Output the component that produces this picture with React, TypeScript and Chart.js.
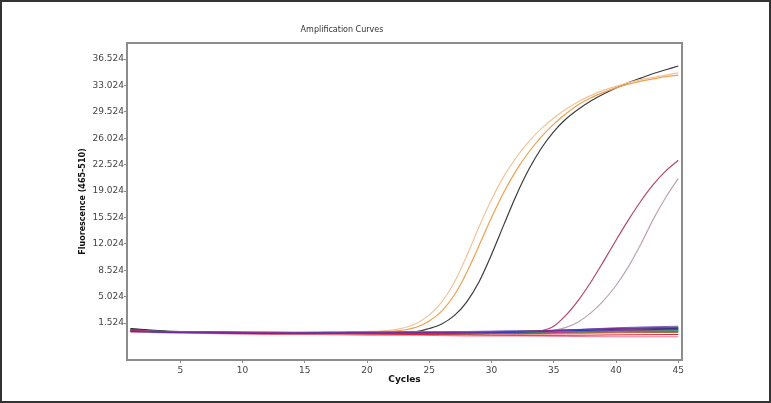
import React, { useEffect, useRef } from "react";
import { Chart, registerables } from "chart.js";

Chart.register(...registerables);

// ---- data ----
const cycles = [
  1, 2, 3, 4, 5, 6, 7, 8, 9, 10, 11, 12, 13, 14, 15, 16, 17, 18, 19, 20, 21, 22, 23,
  24, 25, 26, 27, 28, 29, 30, 31, 32, 33, 34, 35, 36, 37, 38, 39, 40, 41, 42, 43, 44, 45,
];

const xTicks = [5, 10, 15, 20, 25, 30, 35, 40, 45];
const yTicks = [1.524, 5.024, 8.524, 12.024, 15.524, 19.024, 22.524, 26.024, 29.524, 33.024, 36.524];

// amplification curves (one value per cycle)
const curveA = [
  0.6, 0.5, 0.4, 0.35, 0.3, 0.3, 0.25, 0.25, 0.2, 0.2, 0.2, 0.2, 0.25, 0.25, 0.25, 0.3, 0.3, 0.3, 0.35, 0.4, 0.45,
  0.6, 0.9, 1.5, 2.6, 4.3, 6.9, 10.4, 14.3, 17.9, 21.0, 23.5, 25.6, 27.3, 28.7, 29.9, 30.9, 31.7, 32.4, 32.9,
  33.4, 33.8, 34.1, 34.4, 34.7,
];
const curveB = [
  0.5, 0.45, 0.4, 0.3, 0.3, 0.25, 0.25, 0.2, 0.2, 0.2, 0.2, 0.25, 0.25, 0.25, 0.3, 0.3, 0.3, 0.3, 0.35, 0.35, 0.4,
  0.45, 0.6, 1.0, 1.8, 3.1, 5.2, 8.2, 11.8, 15.5, 18.9, 21.8, 24.2, 26.2, 27.9, 29.3, 30.5, 31.4, 32.1, 32.7,
  33.2, 33.6, 33.9, 34.2, 34.4,
];
const curveC = [
  0.7, 0.5, 0.4, 0.35, 0.3, 0.3, 0.25, 0.2, 0.2, 0.2, 0.2, 0.2, 0.2, 0.25, 0.25, 0.25, 0.3, 0.3, 0.3, 0.3, 0.3,
  0.3, 0.35, 0.4, 0.8, 1.4, 2.5, 4.3, 7.0, 10.6, 14.6, 18.5, 21.9, 24.7, 26.9, 28.6, 29.9, 31.0, 31.9, 32.7,
  33.4, 34.0, 34.6, 35.1, 35.6,
];
const curveD = [
  0.5, 0.4, 0.35, 0.3, 0.3, 0.25, 0.25, 0.2, 0.2, 0.2, 0.2, 0.2, 0.2, 0.2, 0.25, 0.25, 0.25, 0.25, 0.3, 0.3, 0.3,
  0.3, 0.3, 0.3, 0.3, 0.3, 0.3, 0.3, 0.3, 0.3, 0.3, 0.3, 0.35, 0.5, 1.1, 2.6, 4.6, 7.0, 9.7, 12.5,
  15.2, 17.7, 19.9, 21.7, 23.1,
];
const curveE = [
  0.4, 0.35, 0.3, 0.3, 0.25, 0.25, 0.2, 0.2, 0.2, 0.2, 0.2, 0.2, 0.2, 0.2, 0.2, 0.2, 0.25, 0.25, 0.25, 0.25, 0.25,
  0.25, 0.25, 0.25, 0.3, 0.3, 0.3, 0.3, 0.3, 0.3, 0.3, 0.3, 0.3, 0.35, 0.55, 0.95, 1.7, 2.9, 4.5, 6.5,
  9.0, 12.0, 15.3, 18.2, 20.7,
];

// flat (negative) samples, read at sparse cycles
const baseCycles = [1, 4, 8, 12, 16, 20, 24, 28, 32, 36, 40, 45];
const base1 = [0.5, 0.3, 0.25, 0.2, 0.2, 0.2, 0.25, 0.3, 0.4, 0.6, 0.8, 0.9];
const base2 = [0.4, 0.3, 0.2, 0.15, 0.2, 0.2, 0.2, 0.25, 0.3, 0.5, 0.6, 0.7];
const base3 = [0.5, 0.3, 0.2, 0.1, 0.1, 0.05, 0.0, -0.05, -0.1, -0.1, -0.05, 0.0];
const base4 = [0.6, 0.35, 0.3, 0.25, 0.2, 0.25, 0.3, 0.2, 0.1, 0.3, 0.5, 0.4];
const base5 = [0.5, 0.3, 0.25, 0.2, 0.15, 0.2, 0.1, 0.05, 0.2, 0.3, 0.5, 0.6];
const base6 = [0.4, 0.3, 0.25, 0.2, 0.3, 0.2, 0.2, 0.3, 0.35, 0.4, 0.5, 0.5];
const base7 = [0.6, 0.4, 0.3, 0.3, 0.25, 0.3, 0.3, 0.35, 0.4, 0.6, 0.8, 1.0];
const base8 = [0.7, 0.4, 0.3, 0.25, 0.2, 0.2, 0.15, 0.2, 0.3, 0.4, 0.7, 0.8];
const base9 = [0.3, 0.2, 0.1, 0.0, 0.0, -0.1, -0.1, -0.2, -0.2, -0.25, -0.3, -0.3];
const base10 = [0.5, 0.35, 0.3, 0.25, 0.2, 0.15, 0.2, 0.25, 0.3, 0.3, 0.4, 0.5];
const base11 = [0.4, 0.25, 0.2, 0.2, 0.15, 0.1, 0.1, 0.1, 0.15, 0.2, 0.3, 0.3];
const base12 = [0.5, 0.3, 0.3, 0.3, 0.3, 0.35, 0.35, 0.4, 0.5, 0.6, 0.9, 1.1];
const base13 = [0.6, 0.4, 0.35, 0.3, 0.25, 0.2, 0.2, 0.2, 0.25, 0.35, 0.45, 0.6];
const base14 = [0.8, 0.45, 0.3, 0.25, 0.2, 0.2, 0.25, 0.2, 0.2, 0.3, 0.4, 0.5];
const base15 = [0.4, 0.3, 0.2, 0.2, 0.15, 0.15, 0.2, 0.1, 0.05, 0.1, 0.2, 0.3];
const base16 = [0.5, 0.3, 0.25, 0.2, 0.2, 0.25, 0.3, 0.35, 0.45, 0.55, 0.75, 0.9];

const baseSeries = [
  { values: base1, color: "#7a2a9a" },
  { values: base2, color: "#2838c0" },
  { values: base3, color: "#d82030" },
  { values: base4, color: "#c03890" },
  { values: base5, color: "#3a9a40" },
  { values: base6, color: "#40b8d0" },
  { values: base7, color: "#707070" },
  { values: base8, color: "#203070" },
  { values: base9, color: "#f07890" },
  { values: base10, color: "#8a8a40" },
  { values: base11, color: "#a05a30" },
  { values: base12, color: "#8060c8" },
  { values: base13, color: "#2a8080" },
  { values: base14, color: "#202020" },
  { values: base15, color: "#e89070" },
  { values: base16, color: "#6070a0" },
];

const ampSeries = [
  { values: curveE, color: "#bca4b6" },
  { values: curveD, color: "#b04868" },
  { values: curveA, color: "#f0c49a" },
  { values: curveB, color: "#eea050" },
  { values: curveC, color: "#3c3c3c" },
];

const FONT = "DejaVu Sans";

export default function App() {
  const ref = useRef<HTMLCanvasElement>(null);

  useEffect(() => {
    if (!ref.current) return;

    const datasets: any[] = [];
    baseSeries.forEach((s) => {
      datasets.push({
        data: baseCycles.map((c, i) => ({ x: c, y: s.values[i] })),
        borderColor: s.color,
        borderWidth: 1,
        pointRadius: 0,
        fill: false,
        cubicInterpolationMode: "monotone",
      });
    });
    ampSeries.forEach((s) => {
      datasets.push({
        data: cycles.map((c, i) => ({ x: c, y: s.values[i] })),
        borderColor: s.color,
        borderWidth: 1.2,
        pointRadius: 0,
        fill: false,
        cubicInterpolationMode: "monotone",
      });
    });

    const boxPlugin = {
      id: "plotBox",
      afterDraw(chart: any) {
        const { ctx, chartArea } = chart;
        ctx.save();
        ctx.strokeStyle = "#8c8c8c";
        ctx.lineWidth = 2;
        ctx.strokeRect(
          chartArea.left,
          chartArea.top,
          chartArea.right - chartArea.left,
          chartArea.bottom - chartArea.top
        );
        ctx.restore();
      },
    };

    const chart = new Chart(ref.current, {
      type: "line",
      data: { datasets },
      options: {
        animation: false,
        responsive: false,
        maintainAspectRatio: false,
        layout: { padding: { left: 0, right: 87, top: 0, bottom: 16 } },
        plugins: {
          legend: { display: false },
          tooltip: { enabled: false },
          title: {
            display: true,
            text: "Amplification Curves",
            color: "#333",
            font: { family: FONT, size: 8, weight: "normal" },
            padding: { top: 23, bottom: 8.4 },
          },
        },
        scales: {
          x: {
            type: "linear",
            min: 0.72,
            max: 45.3,
            afterBuildTicks: (s: any) => {
              s.ticks = xTicks.map((v) => ({ value: v }));
            },
            afterFit: (s: any) => {
              s.height = 25;
            },
            ticks: {
              color: "#444",
              font: { family: FONT, size: 9 },
              padding: 2,
              maxRotation: 0,
              autoSkip: false,
            },
            grid: {
              drawOnChartArea: false,
              drawTicks: true,
              tickLength: 3,
              color: "#888",
            },
            border: { display: true, color: "#8c8c8c", width: 2 },
            title: {
              display: true,
              text: "Cycles",
              color: "#111",
              font: { family: FONT, size: 9, weight: "bold" },
              padding: { top: 0, bottom: 0 },
            },
          },
          y: {
            type: "linear",
            min: -3.38,
            max: 38.65,
            afterBuildTicks: (s: any) => {
              s.ticks = yTicks.map((v) => ({ value: v }));
            },
            afterFit: (s: any) => {
              s.width = 125;
            },
            ticks: {
              color: "#444",
              font: { family: FONT, size: 9 },
              padding: 0,
              autoSkip: false,
              callback: (v: any) => Number(v).toFixed(3),
            },
            grid: {
              drawOnChartArea: false,
              drawTicks: true,
              tickLength: 3,
              color: "#888",
            },
            border: { display: true, color: "#8c8c8c", width: 2 },
            title: {
              display: true,
              text: "Fluorescence (465-510)",
              color: "#111",
              font: { family: FONT, size: 8, weight: "bold" },
              padding: { top: 76, bottom: 0 },
            },
          },
        },
      },
      plugins: [boxPlugin],
    } as any);

    return () => chart.destroy();
  }, []);

  return (
    <div
      style={{
        position: "fixed",
        left: 0,
        top: 0,
        width: 771,
        height: 403,
        boxSizing: "border-box",
        border: "2px solid #333",
        background: "#fff",
      }}
    >
      <canvas ref={ref} width={767} height={399} style={{ display: "block" }} />
    </div>
  );
}
